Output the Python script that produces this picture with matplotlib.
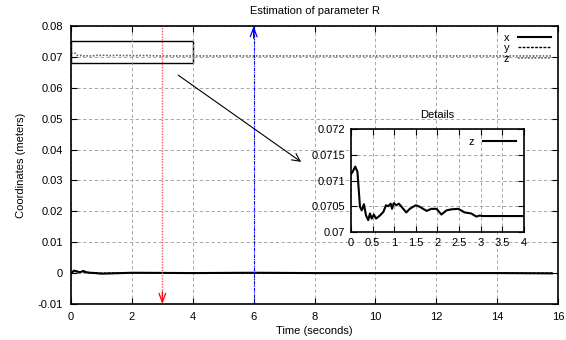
import matplotlib
matplotlib.use("Agg")
import matplotlib.pyplot as plt
from matplotlib.patches import Rectangle

plt.rcParams['font.family'] = ['Liberation Sans', 'DejaVu Sans']
plt.rcParams['font.size'] = 8

# data
t_xy = [0, 0.1, 0.2, 0.3, 0.4, 0.5, 0.6, 0.8, 1.0, 2, 4, 6, 8, 10, 12, 14, 15.8]
x_vals = [0, 0.0008, 0.0005, 0.0002, 0.0007, 0.0003, 0.0001, 0.0, -0.0002, 0.0001,
          0, 0.0001, 0, 0, 0, 0, -0.0001]
y_vals = [0, 0.0004, 0.0006, 0.0003, 0.0004, 0.0001, 0.0002, 0.0001, 0.0, 0.0001,
          0, 0, 0, 0, 0, 0, 0]

t_z = [0.0, 0.04, 0.1, 0.15, 0.21, 0.25, 0.3, 0.35, 0.4, 0.44, 0.48, 0.53, 0.58,
       0.67, 0.75, 0.81, 0.86, 0.92, 0.95, 0.99, 1.05, 1.11, 1.17, 1.28, 1.36,
       1.5, 1.59, 1.75, 1.86, 1.98, 2.09, 2.21, 2.32, 2.48, 2.63, 2.78, 2.9,
       2.98, 3.04, 4.0, 15.8]
z_vals = [0.07112, 0.07117, 0.07127, 0.07117, 0.07049, 0.07042, 0.07054, 0.07032,
          0.07023, 0.07036, 0.07026, 0.07034, 0.07026, 0.07032, 0.07039, 0.07052,
          0.0705, 0.07055, 0.07045, 0.07056, 0.07052, 0.07055, 0.07049, 0.07038,
          0.07045, 0.07052, 0.07049, 0.07041, 0.07045, 0.07045, 0.07034, 0.07042,
          0.07044, 0.07045, 0.07038, 0.07036, 0.0703, 0.07032, 0.07031, 0.07031,
          0.07031]

x_ticks = [0, 2, 4, 6, 8, 10, 12, 14, 16]
y_ticks = [-0.01, 0, 0.01, 0.02, 0.03, 0.04, 0.05, 0.06, 0.07, 0.08]
y_labels = ['-0.01', '0', '0.01', '0.02', '0.03', '0.04', '0.05', '0.06', '0.07', '0.08']
in_x_ticks = [0, 0.5, 1, 1.5, 2, 2.5, 3, 3.5, 4]
in_x_labels = ['0', '0.5', '1', '1.5', '2', '2.5', '3', '3.5', '4']
in_y_ticks = [0.07, 0.0705, 0.071, 0.0715, 0.072]
in_y_labels = ['0.07', '0.0705', '0.071', '0.0715', '0.072']

fig = plt.figure(figsize=(5.66, 3.4), dpi=100)
ax = fig.add_axes([0.1254, 0.106, 0.8606, 0.8175])

grid_kw = dict(color='#999999', linestyle=(0, (4, 3)), linewidth=0.6)

ax.plot(t_xy, x_vals, color='black', linewidth=1.5, label='x')
ax.plot(t_xy, y_vals, color='black', linewidth=1.0, linestyle=(0, (2, 1)), label='y')
ax.plot(t_z, z_vals, color='#666666', linewidth=1.2, linestyle=(0, (1, 1)), label='z')

ax.set_xlim(0, 16)
ax.set_ylim(-0.01, 0.08)
ax.set_xticks(x_ticks)
ax.set_xticklabels([str(v) for v in x_ticks])
ax.set_yticks(y_ticks)
ax.set_yticklabels(y_labels)
ax.tick_params(direction='in', length=4, top=True, right=True, pad=6)
ax.grid(True, **grid_kw)
for s in ax.spines.values():
    s.set_linewidth(1.2)

ax.set_title('Estimation of parameter R', fontsize=8, pad=9)
ax.set_xlabel('Time (seconds)', labelpad=3)
ax.set_ylabel('Coordinates (meters)', labelpad=8)

ax.legend(loc='upper right', frameon=False, markerfirst=False,
          handlelength=3, handletextpad=0.8, labelspacing=0.05,
          borderaxespad=0.2, fontsize=8)

# zoom box and arrows
ax.add_patch(Rectangle((0, 0.068), 4, 0.007, fill=False, edgecolor='black', linewidth=1.0))
ax.annotate('', xy=(7.56, 0.036), xytext=(3.52, 0.0641),
            arrowprops=dict(arrowstyle='->', color='black', linewidth=0.8,
                            mutation_scale=14, shrinkA=0, shrinkB=0))

ax.vlines(3, -0.01, 0.08, colors='#ff5555', linewidth=1.0, linestyles=(0, (1, 1)))
ax.annotate('', xy=(3, -0.01), xytext=(3, -0.006),
            arrowprops=dict(arrowstyle='->,head_length=0.8,head_width=0.3',
                            color='red', linewidth=0.9, shrinkA=0, shrinkB=0))
ax.vlines(6, -0.01, 0.08, colors='blue', linewidth=0.8, linestyles=(0, (3, 1, 1, 1)))
ax.annotate('', xy=(6, 0.08), xytext=(6, 0.076),
            arrowprops=dict(arrowstyle='->,head_length=0.8,head_width=0.3',
                            color='blue', linewidth=0.9, shrinkA=0, shrinkB=0))

# inset
ins = fig.add_axes([0.620, 0.3176, 0.3057, 0.303])
ins.plot(t_z, z_vals, color='black', linewidth=1.5, label='z')
ins.set_xlim(0, 4)
ins.set_ylim(0.07, 0.072)
ins.set_xticks(in_x_ticks)
ins.set_xticklabels(in_x_labels)
ins.set_yticks(in_y_ticks)
ins.set_yticklabels(in_y_labels)
ins.tick_params(direction='in', length=4, top=True, right=True, pad=4)
ins.grid(True, **grid_kw)
for s in ins.spines.values():
    s.set_linewidth(1.2)
ins.set_title('Details', fontsize=8, pad=8)
ins.legend(loc='upper right', frameon=False, markerfirst=False,
           handlelength=3, handletextpad=0.8, borderaxespad=0.3, fontsize=8)

fig.savefig('out.png', dpi=100)
